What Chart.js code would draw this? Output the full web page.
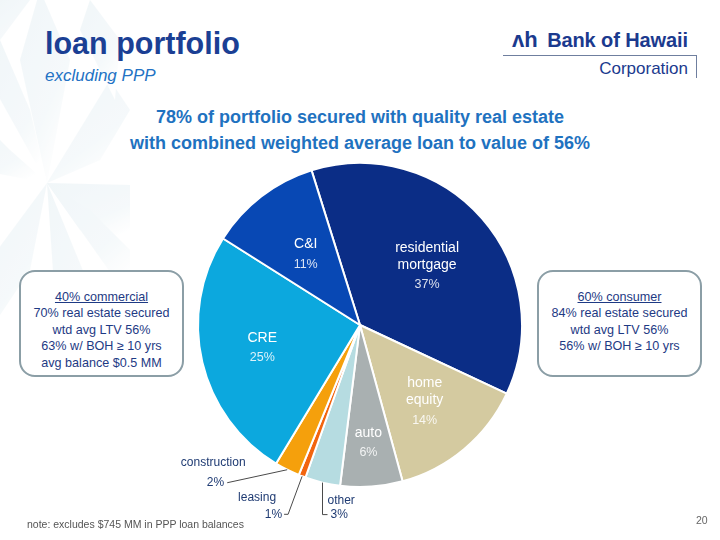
<!DOCTYPE html>
<html>
<head>
<meta charset="utf-8">
<script src="https://cdn.jsdelivr.net/npm/chart.js@4/dist/chart.umd.min.js"></script>
<style>
  body { margin: 0; background: #fff; font-family: "Liberation Sans", Arial, sans-serif; }
  #page { position: relative; width: 720px; height: 540px; overflow: hidden; background: #fff; }
  #bg { position: absolute; left: 0; top: 0; opacity: 0.55; }
  .title { position: absolute; left: 45px; top: 26px; font-size: 30.5px; font-weight: bold; color: #1b3f94; }
  .sub { position: absolute; left: 45px; top: 66px; font-size: 17px; font-style: italic; color: #2372c4; }
  .headline { position: absolute; left: 0; width: 720px; top: 104px; text-align: center; font-size: 18px; font-weight: bold; color: #1f72c0; line-height: 26px; }
  .logo { position: absolute; left: 500px; top: 28px; width: 200px; height: 60px; }
  .logo .name { position: absolute; right: 12px; top: 1px; font-size: 20px; font-weight: bold; color: #1b3a8e; letter-spacing: -0.1px; }
  .logo .mark { position: absolute; left: 12px; top: -1px; font-size: 22px; font-weight: bold; color: #1b3a8e; }
  .logo .corp { position: absolute; right: 12px; top: 31px; font-size: 17px; color: #1b3a8e; }
  .logo .hl { position: absolute; left: 3px; top: 27px; width: 194px; height: 1px; background: #6f7f9f; }
  .logo .vl { position: absolute; left: 196px; top: 27px; width: 1px; height: 23px; background: #6f7f9f; }
  .box { position: absolute; top: 270px; height: 107px; border: 2px solid #8b9ea6; border-radius: 16px; background: #fff;
         text-align: center; color: #1e3a84; font-size: 12.6px; line-height: 16.4px; padding-top: 17px; box-sizing: border-box; }
  .box u { text-decoration: underline; }
  #wrap { position: absolute; left: 150px; top: 160px; width: 420px; height: 380px; }
  .note { position: absolute; left: 27px; top: 518px; font-size: 10.5px; color: #555; }
  .pg { position: absolute; left: 696px; top: 514px; font-size: 10.5px; color: #666; }
</style>
</head>
<body>
<div id="page">
  <svg id="bg" width="180" height="420">
    <defs>
      <linearGradient id="fade" x1="0" y1="0" x2="0.6" y2="1">
        <stop offset="0" stop-color="#e6f0f4"/>
        <stop offset="0.7" stop-color="#eef5f8"/>
        <stop offset="1" stop-color="#ffffff"/>
      </linearGradient>
    </defs>
    <g fill="url(#fade)">
      <polygon points="47,183 20,60 40,-10 70,60"/>
      <polygon points="47,183 110,80 130,110 100,160"/>
      <polygon points="47,183 130,185 130,245 80,230"/>
      <polygon points="47,183 95,300 90,360 55,300"/>
      <polygon points="47,183 -10,260 -10,330 30,270"/>
      <polygon points="47,183 -20,170 -20,120 10,150"/>
      <polygon points="47,183 -5,90 0,40 30,110"/>
      <polygon points="47,183 130,300 130,250 90,210"/>
      <polygon points="90,0 120,40 115,100 80,30"/>
      <polygon points="0,0 30,0 0,40"/>
    </g>
  </svg>

  <div class="title">loan portfolio</div>
  <div class="sub">excluding PPP</div>

  <div class="logo">
    <span class="mark">&#x028C;h</span>
    <span class="name">Bank of Hawaii</span>
    <div class="hl"></div><div class="vl"></div>
    <span class="corp">Corporation</span>
  </div>

  <div class="headline">78% of portfolio secured with quality real estate<br>with combined weighted average loan to value of 56%</div>

  <div class="box" style="left:19px; width:165px;">
    <u>40% commercial</u><br>70% real estate secured<br>wtd avg LTV 56%<br>63% w/ BOH &ge; 10 yrs<br>avg balance $0.5 MM
  </div>
  <div class="box" style="left:537px; width:165px;">
    <u>60% consumer</u><br>84% real estate secured<br>wtd avg LTV 56%<br>56% w/ BOH &ge; 10 yrs
  </div>

  <div id="wrap"><canvas id="pie"></canvas></div>

  <div class="note">note: excludes $745 MM in PPP loan balances</div>
  <div class="pg">20</div>
</div>

<script>
// loan mix, % of portfolio (clockwise from residential)
const categories = ['residential mortgage', 'home equity', 'auto', 'other', 'leasing', 'construction', 'CRE', 'C&I'];
const shares = [36.8, 13.8, 6.2, 3.5, 0.7, 2.5, 25.3, 11.2];
const pctLabels = ['37%', '14%', '6%', '3%', '1%', '2%', '25%', '11%'];
const nameLines = [['residential', 'mortgage'], ['home', 'equity'], ['auto'], ['other'], ['leasing'], ['construction'], ['CRE'], ['C&I']];

const sliceColors = ['#0b2d86', '#d4caa0', '#a9b0b1', '#b6dce1', '#f2650f', '#f5a00c', '#0ca8de', '#0848b4'];

// label layout: inside labels sit at a fraction of the radius, small slices get leader lines
const inside = { 0: 0.55, 1: 0.62, 2: 0.73, 6: 0.62, 7: 0.55 };
const outside = {
  5: { line: [[-60, 13]], pct: [-63, 13, 'right'], name: [-74, -7, 'center'] },
  4: { line: [[-14, 38], [-18, 38]], pct: [-20, 38, 'right'], name: [-45, 21, 'center'] },
  3: { line: [[0, 32], [5, 32]], pct: [8, 32, 'left'], name: [5, 18, 'left'] }
};

const sliceLabels = {
  id: 'sliceLabels',
  afterDatasetsDraw(chart) {
    const ctx = chart.ctx;
    const meta = chart.getDatasetMeta(0);
    ctx.save();
    ctx.textBaseline = 'middle';
    meta.data.forEach((arc, i) => {
      const p = arc.getProps(['x', 'y', 'startAngle', 'endAngle', 'outerRadius'], true);
      const mid = (p.startAngle + p.endAngle) / 2;
      if (inside[i] !== undefined) {
        const r = p.outerRadius * inside[i];
        const cx = p.x + Math.cos(mid) * r;
        const cy = p.y + Math.sin(mid) * r;
        const lines = nameLines[i];
        const h = (lines.length - 1) * 17 + 20;
        let y = cy - h / 2;
        ctx.textAlign = 'center';
        ctx.fillStyle = '#ffffff';
        ctx.font = '14px "Liberation Sans", Arial, sans-serif';
        lines.forEach(t => { ctx.fillText(t, cx, y); y += 17; });
        y += 3;
        ctx.fillStyle = 'rgba(255,255,255,0.85)';
        ctx.font = '12.5px "Liberation Sans", Arial, sans-serif';
        ctx.fillText(pctLabels[i], cx, y);
      } else if (outside[i]) {
        const o = outside[i];
        const ax = p.x + Math.cos(mid) * p.outerRadius;
        const ay = p.y + Math.sin(mid) * p.outerRadius;
        ctx.strokeStyle = '#4a4a4a';
        ctx.lineWidth = 1;
        ctx.beginPath();
        ctx.moveTo(ax, ay);
        o.line.forEach(pt => ctx.lineTo(ax + pt[0], ay + pt[1]));
        ctx.stroke();
        ctx.fillStyle = '#1f3b73';
        ctx.font = '12px "Liberation Sans", Arial, sans-serif';
        ctx.textAlign = o.pct[2];
        ctx.fillText(pctLabels[i], ax + o.pct[0], ay + o.pct[1]);
        ctx.textAlign = o.name[2];
        ctx.fillText(nameLines[i][0], ax + o.name[0], ay + o.name[1]);
      }
    });
    ctx.restore();
  }
};

new Chart(document.getElementById('pie'), {
  type: 'pie',
  data: {
    labels: categories,
    datasets: [{
      data: shares,
      backgroundColor: sliceColors,
      borderColor: '#ffffff',
      borderWidth: 2,
      hoverOffset: 0
    }]
  },
  options: {
    responsive: true,
    maintainAspectRatio: false,
    animation: false,
    rotation: -17.4,
    layout: { padding: { top: 2, bottom: 52, left: 47, right: 47 } },
    plugins: {
      legend: { display: false },
      tooltip: { enabled: false }
    }
  },
  plugins: [sliceLabels]
});
</script>
</body>
</html>
